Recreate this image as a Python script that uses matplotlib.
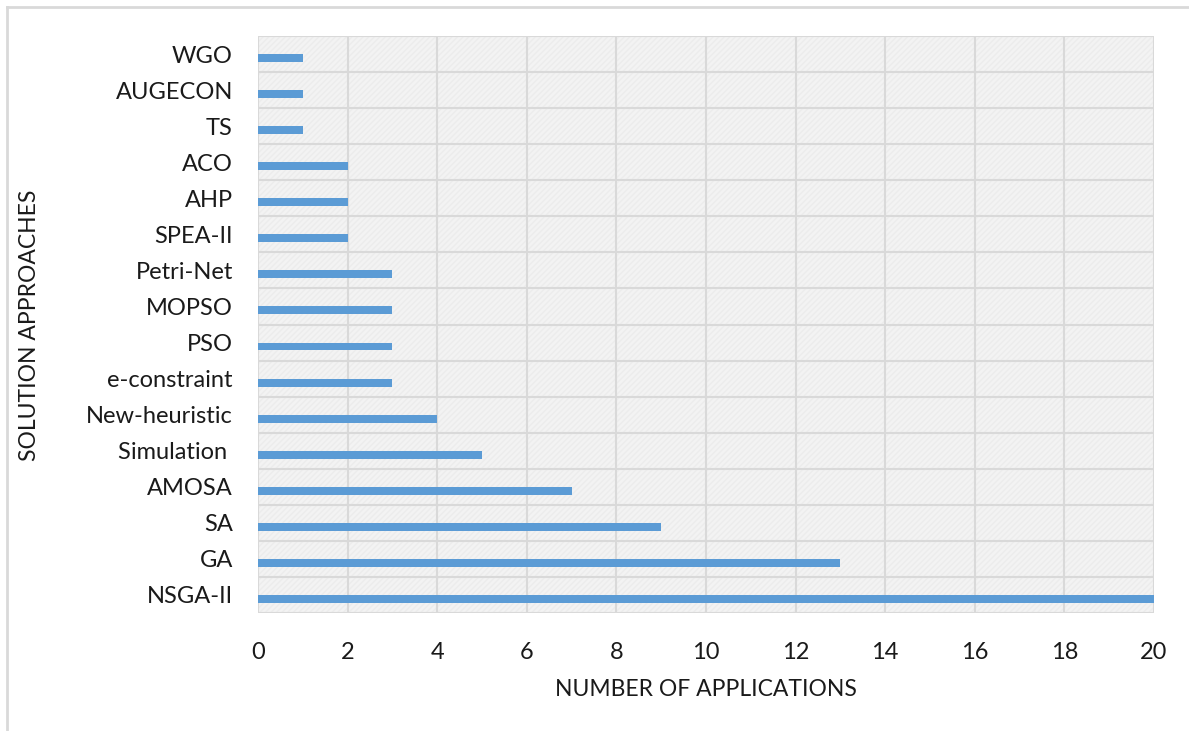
import matplotlib
matplotlib.use("Agg")
import matplotlib.pyplot as plt
from matplotlib.lines import Line2D
import numpy as np

categories = ["NSGA-II", "GA", "SA", "AMOSA", "Simulation ", "New-heuristic",
              "e-constraint", "PSO", "MOPSO", "Petri-Net", "SPEA-II", "AHP",
              "ACO", "TS", "AUGECON", "WGO"]
values = [20, 13, 9, 7, 5, 4, 3, 3, 3, 3, 2, 2, 2, 1, 1, 1]
x_ticks = [0, 2, 4, 6, 8, 10, 12, 14, 16, 18, 20]

plt.rcParams['font.family'] = ['Lato', 'DejaVu Sans']

W, H = 1189, 731
fig = plt.figure(figsize=(W / 100, H / 100), dpi=100)
fig.patch.set_facecolor('white')

ax = fig.add_axes([258 / W, 1 - 613 / H, (1154 - 258) / W, (613 - 36) / H])
ax.set_facecolor('#f3f3f3')
# light hatch texture
ax.patch.set_hatch('//////')
ax.patch.set_edgecolor('#ececec')
ax.patch.set_linewidth(0)

y = np.arange(len(categories))
ax.barh(y - 0.11, values, height=0.22, color='#5b9bd5', zorder=3)

ax.set_xlim(0, 20)
ax.set_ylim(-0.5, len(categories) - 0.5)
ax.set_xticks(x_ticks)
ax.set_xticklabels([str(t) for t in x_ticks])
ax.set_yticks(y)
ax.set_yticklabels(categories)
ax.set_yticks(np.arange(-0.5, len(categories), 1.0), minor=True)

ax.grid(axis='x', which='major', color='#d9d9d9', linewidth=1.5, zorder=1)
ax.grid(axis='y', which='minor', color='#d9d9d9', linewidth=1.5, zorder=1)
ax.grid(axis='y', which='major', visible=False)
ax.set_axisbelow(True)

for s in ax.spines.values():
    s.set_visible(False)

ax.tick_params(axis='both', which='both', length=0)
ax.tick_params(axis='y', which='major', labelsize=17, pad=18, labelcolor='#1a1a1a')
ax.tick_params(axis='x', which='major', labelsize=17, pad=21, labelcolor='#1a1a1a')

fig.text(706 / W, 1 - 689 / H, "NUMBER OF APPLICATIONS", ha='center', va='center',
         fontsize=16.5, color='#1a1a1a')
fig.text(30 / W, 1 - 325 / H, "SOLUTION APPROACHES", ha='center', va='center',
         rotation=90, fontsize=16.5, color='#1a1a1a')

# outer chart frame (left and top edges visible)
fig.add_artist(Line2D([7 / W, 7 / W], [0, 1 - 7 / H], transform=fig.transFigure,
                      color='#d9d9d9', linewidth=2))
fig.add_artist(Line2D([7 / W, 1], [1 - 7 / H, 1 - 7 / H], transform=fig.transFigure,
                      color='#d9d9d9', linewidth=2))

fig.savefig("out.png", dpi=100)
